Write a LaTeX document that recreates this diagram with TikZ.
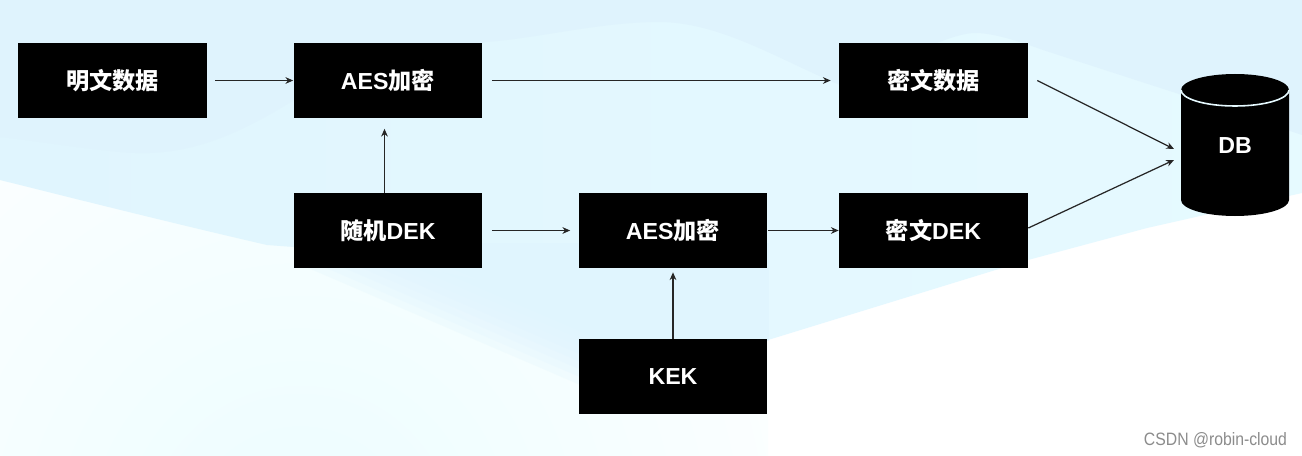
\documentclass[tikz,border=0pt]{standalone}
\usepackage{fontspec}
\setmainfont{Liberation Sans}
\newfontfamily\cjk{Noto Sans CJK SC}
\newfontfamily\markfont[FakeStretch=0.88]{Liberation Sans}
\usepackage{tikz}
\usetikzlibrary{arrows.meta,positioning,calc}
\definecolor{skytop}{HTML}{DFF3FD}
\definecolor{skylow}{HTML}{E0F5FE}
\definecolor{skypale}{HTML}{E6FAFF}
\definecolor{skyfloor}{HTML}{ECFDFF}

\begin{document}
\begin{tikzpicture}[
      x=0.02cm, y=-0.02cm,
      >=Stealth,
      box/.style={fill=black, text=white, minimum width=3.78cm, minimum height=1.5cm, inner sep=0pt, font=\bfseries\fontsize{13.2pt}{15pt}\selectfont},
      flow/.style={->, line width=0.7pt, draw=black!85, >={Stealth[length=4.4pt,width=3.8pt]}}]
    % background
    \useasboundingbox (0,0) rectangle (1302,456);
    \fill[white] (0,0) rectangle (1302,456);
    \begin{scope}
      \clip (0,180) -- (768,340) -- (768,456) -- (0,456) -- cycle;
      \shade[inner color=skyfloor, outer color=white] (300,540) circle (620);
    \end{scope}
    \shade[left color=skylow, right color=skypale] (0,0) -- (1302,0) -- (1302,193) -- (1147,228) -- (1028,260) -- (768,340) -- (768,243) -- (294,243) -- (294,247) -- (267,245) .. controls (180,225) and (80,200) .. (0,180) -- cycle;
    \begin{scope}
      \clip (294,243) -- (768,243) -- (768,340) -- (620,420) -- (294,420) -- cycle;
      \foreach \a in {250,268,...,430}
        \fill[skylow, opacity=0.25] (\a,243) -- (800,243) -- (800,{243+0.43*(800-\a)}) -- cycle;
    \end{scope}
    \fill[skytop] (0,0) -- (1302,0) -- (1302,135) -- (1182,95) -- (1043,50) .. controls (1010,38) and (990,33) .. (975,33) .. controls (950,33) and (900,60) .. (840,85) .. controls (780,60) and (720,22) .. (659,22) .. controls (600,22) and (540,38) .. (486,42) -- (294,100) .. controls (230,140) and (180,158) .. (120,152) .. controls (70,147) and (30,140) .. (0,137) -- cycle;
    % boxes
    \node[box] (plain) at (112.5,80.5) {\cjk 明文数据};
    \node[box] (aesa) at (388,80.5) {AES\cjk 加密};
    \node[box] (cipher) at (933.5,80.5) {\cjk 密文数据};
    \node[box] (dek) at (388,230.5) {{\cjk 随机}DEK};
    \node[box] (aesb) at (673,230.5) {AES\cjk 加密};
    \node[box] (cdek) at (933.5,230.5) {{\cjk 密文}DEK};
    \node[box] (kek) at (673,376.5) {KEK};
    % database
    \fill[black] (1181,90) arc[start angle=180, end angle=0, x radius=54, y radius=-16] -- (1289,200) arc[start angle=0, end angle=-180, x radius=54, y radius=-16] -- cycle;
    \draw[skypale, line width=0.9pt] (1181,90) arc[start angle=180, end angle=360, x radius=54, y radius=-16];
    \node[text=white, inner sep=0pt, font=\bfseries\fontsize{13.2pt}{15pt}\selectfont] (db) at (1235,146) {DB};
    % arrows
    \draw[flow] ([xshift=0.16cm]plain.east) -- (aesa.west);
    \draw[flow] ([xshift=0.18cm]aesa.east) -- ([xshift=-0.16cm]cipher.west);
    \draw[flow] ([xshift=-0.07cm]dek.north) -- ([xshift=-0.07cm,yshift=-0.21cm]aesa.south);
    \draw[flow] ([xshift=0.18cm]dek.east) -- ([xshift=-0.16cm]aesb.west);
    \draw[flow] (aesb.east) -- (cdek.west);
    \draw[flow] (kek.north) -- ([yshift=-0.08cm]aesb.south);
    \coordinate (dba) at (1174,149);
    \coordinate (dbb) at (1174,160);
    \draw[flow] ([xshift=0.18cm]cipher.east) -- (dba);
    \draw[flow] ([yshift=0.05cm]cdek.east) -- (dbb);
    % watermark
    \node[text=black!45, font=\markfont\fontsize{10.2pt}{12pt}\selectfont, inner sep=0pt] (mark) at (1215.5,440) {CSDN @robin-cloud};
  \end{tikzpicture}
\end{document}
